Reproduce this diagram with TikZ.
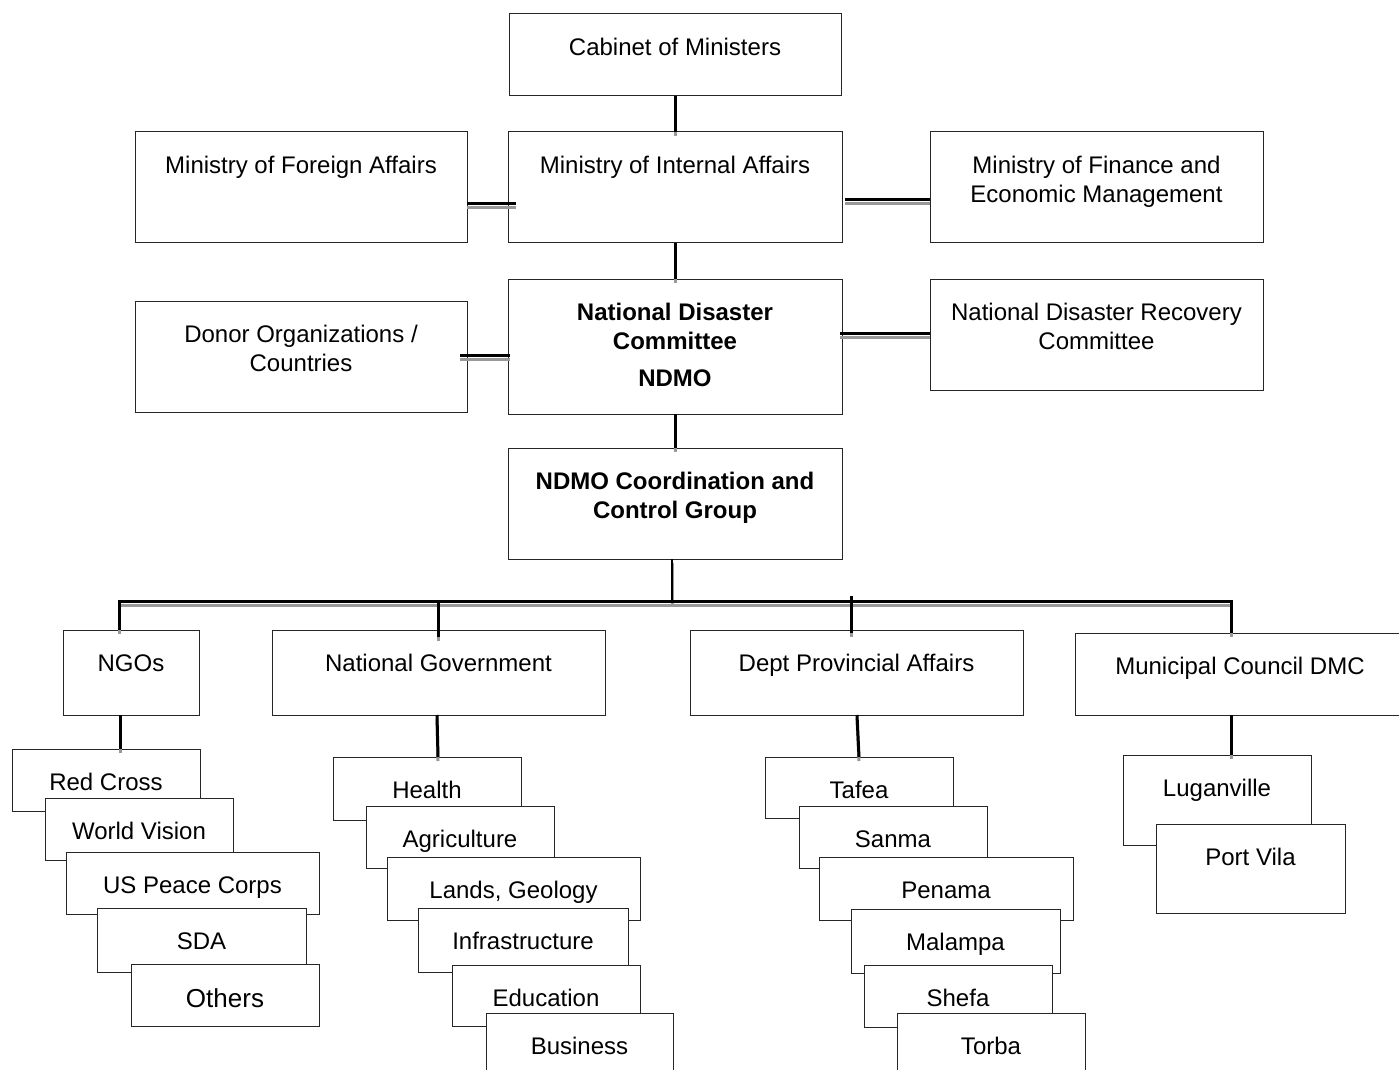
\documentclass[tikz,border=0pt]{standalone}
\usepackage{fontspec}
\setmainfont{Liberation Sans}
\usetikzlibrary{calc}
\tikzset{
  boxst/.style={rectangle, draw=black!85, line width=0.5pt, fill=white, inner sep=0pt, outer sep=0pt},
  txt/.style={inner sep=0pt, outer sep=0pt, align=center, font=\fontsize{12pt}{14.5pt}\selectfont},
  bold/.style={font=\fontsize{12pt}{14.5pt}\selectfont\bfseries},
  big/.style={font=\fontsize{13pt}{15.5pt}\selectfont},
  conn/.style={line width=1.5pt, draw=black,
    preaction={draw=black!40, line width=1.5pt, transform canvas={yshift=-2pt}}},
}
\newcommand\bx[7]{%
  \node[boxst, anchor=north west, minimum width={(#4-#2)*0.5pt}, minimum height={(#5-#3)*0.5pt}] (#1) at (#2,#3) {};
  \node[txt, anchor=north, #6] (#1t) at ([yshift=-12.25pt]#1.north) {#7};
}
\begin{document}
\begin{tikzpicture}[x=0.5pt, y=-0.5pt]
\clip (0,0) rectangle (1399,1070);
\fill[white] (0,0) rectangle (1399,1070);
% top levels
\bx{cab}{509}{14}{841}{96}{}{Cabinet of Ministers}
\bx{mfa}{135}{132}{467}{243}{}{Ministry of Foreign Affairs}
\bx{mia}{508}{132}{842}{243}{}{Ministry of Internal Affairs}
\bx{mfem}{930}{132}{1263}{243}{}{Ministry of Finance and\\Economic Management}
\bx{donor}{135}{301}{467}{412}{}{Donor Organizations /\\Countries}
\bx{ndc}{508}{279}{842}{414}{bold}{National Disaster\\Committee\\[4pt]NDMO}
\bx{ndrc}{930}{279}{1263}{390}{}{National Disaster Recovery\\Committee}
\bx{ccg}{508}{448}{842}{559}{bold}{NDMO Coordination and\\Control Group}
% second level
\bx{ngos}{63}{630}{199}{715}{}{NGOs}
\bx{natgov}{272}{630}{605}{715}{}{National Government}
\bx{dept}{690}{630}{1023}{715}{}{Dept Provincial Affairs}
\bx{mun}{1075}{633}{1405}{715}{}{Municipal Council DMC}
% NGO stack
\bx{rc}{12}{749}{200}{811}{}{Red Cross}
\bx{wv}{45}{798}{233}{860}{}{World Vision}
\bx{uspc}{66}{852}{319}{914}{}{US Peace Corps}
\bx{sda}{97}{908}{306}{972}{}{SDA}
\bx{oth}{131}{964}{319}{1026}{big}{Others}
% National government stack
\bx{health}{333}{757}{521}{820}{}{Health}
\bx{agri}{366}{806}{554}{868}{}{Agriculture}
\bx{lands}{387}{857}{640}{920}{}{Lands, Geology}
\bx{infra}{418}{908}{628}{972}{}{Infrastructure}
\bx{edu}{452}{965}{640}{1026}{}{Education}
\bx{biz}{486}{1013}{673}{1076}{}{Business}
% Provincial stack
\bx{tafea}{765}{757}{953}{818}{}{Tafea}
\bx{sanma}{799}{806}{987}{868}{}{Sanma}
\bx{penama}{819}{857}{1073}{920}{}{Penama}
\bx{malampa}{851}{909}{1060}{973}{}{Malampa}
\bx{shefa}{864}{965}{1052}{1027}{}{Shefa}
\bx{torba}{897}{1013}{1085}{1076}{}{Torba}
% Municipal stack
\bx{lug}{1123}{755}{1311}{845}{}{Luganville}
\bx{pv}{1156}{824}{1345}{913}{}{Port Vila}
% connectors, top
\draw[conn] (cab.south) -- (mia.north);
\draw[conn] (mia.south) -- (ndc.north);
\draw[conn] (ndc.south) -- (ccg.north);
\draw[conn] ($(mfa.east)+(0,16.5)$) -- ($(mfa.east -| mia.west)+(8,16.5)$);
\draw[conn] ($(mfem.west -| mia.east)+(3,12.5)$) -- ($(mfem.west)+(0,12.5)$);
\draw[conn] ($(donor.east)+(-7,-1.5)$) -- ($(donor.east -| ndc.west)+(2,-1.5)$);
\draw[conn] ($(ndrc.west -| ndc.east)+(-2,-1.5)$) -- ($(ndrc.west)+(0,-1.5)$);
% bus
\coordinate (busL) at (119,601);
\coordinate (busR) at (1231,601);
\coordinate (busC) at (672,601);
\coordinate (busG) at (438,601);
\coordinate (busD) at (851,596);
\draw[conn, line width=1.2pt] (busC |- ccg.south) -- (busC);
\draw[conn] (busL |- ngos.north) -- (busL) -- (busR) -- (busR |- mun.north);
\draw[conn] (busG) -- ($(busG |- natgov.north)+(0,7)$);
\draw[conn] (busD) -- ($(busD |- dept.north)+(0,3)$);
% drops to stacks
\draw[conn] ($(ngos.south)+(-11,0)$) -- ($(ngos.south |- rc.north)+(-11,0)$);
\draw[conn] ($(natgov.south)+(-1.5,0)$) -- ($(natgov.south |- health.north)+(-0.5,0)$);
\draw[conn] ($(dept.south)+(0.5,0)$) -- ($(dept.south |- tafea.north)+(2.5,0)$);
\draw[conn] ($(mun.south)+(-9,0)$) -- ($(mun.south |- lug.north)+(-9,0)$);
\end{tikzpicture}
\end{document}
